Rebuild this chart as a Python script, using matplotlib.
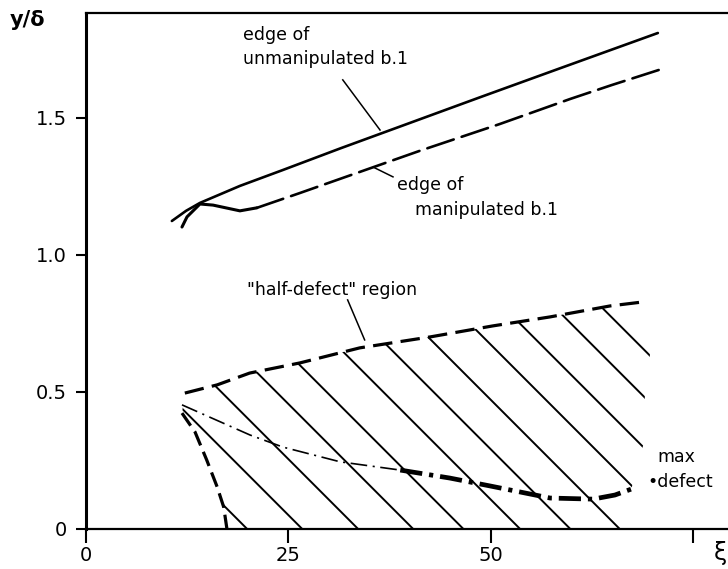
import matplotlib
matplotlib.use("Agg")
import matplotlib.pyplot as plt
from matplotlib.patches import Polygon
import numpy as np

plt.rcParams["font.family"] = ["DejaVu Sans"]
plt.rcParams["lines.scale_dashes"] = False

# Edge of the unmanipulated boundary layer (solid)
unmanip_x = [10.6, 12.35, 14.07, 19.0, 24.3, 31.4, 38.8, 48.6, 58.5, 70.6]
unmanip_y = [1.124, 1.161, 1.190, 1.252, 1.310, 1.389, 1.469, 1.575, 1.681, 1.810]

# Edge of the manipulated boundary layer (solid start, then dashed)
manip_x = [11.85, 12.47, 14.07, 15.68, 19.0, 21.1, 26.4, 33.8, 41.2, 51.1, 59.75, 64.9, 70.7]
manip_y = [1.102, 1.139, 1.186, 1.182, 1.161, 1.172, 1.226, 1.303, 1.380, 1.478, 1.569, 1.620, 1.675]
manip_solid_end = 6

# Upper limit of the "half-defect" region
half_x = [12.2, 16.2, 20.2, 26.4, 33.8, 42.5, 50.2, 57.3, 64.7, 68.6]
half_y = [0.496, 0.526, 0.569, 0.606, 0.661, 0.701, 0.741, 0.774, 0.814, 0.828]

# Lower (left) limit of the region, steep dashed curve
lower_x = [11.85, 13.46, 14.9, 16.2, 17.0, 17.4]
lower_y = [0.423, 0.354, 0.252, 0.153, 0.080, 0.0]

# Right-hand end of the hatched region
right_x = [69.9, 69.6, 69.0, 68.8, 67.5, 66.3]
right_y = [0.83, 0.624, 0.489, 0.307, 0.168, 0.0]

# Locus of maximum defect (thin then heavy dash-dot)
maxdef_x = [11.85, 20.25, 24.3, 31.4, 38.8, 44.9, 49.9, 53.6, 57.3, 62.6, 65.3, 68.0]
maxdef_y = [0.453, 0.343, 0.299, 0.245, 0.215, 0.186, 0.157, 0.135, 0.113, 0.109, 0.124, 0.153]
maxdef_split = 4

# Hatching: xi where each hatch line meets y/delta = 0, and its slope
hatch_feet = [19.9, 26.7, 33.6, 40.4, 46.6, 53.6, 59.8, 65.9, 72.7, 78.9, 85.2, 91.0]
hatch_slope = 0.0296

x_ticks = [0, 25, 50, 75]
x_tick_labels = ["0", "25", "50", ""]
y_ticks = [0, 0.5, 1.0, 1.5]
y_tick_labels = ["0", "0.5", "1.0", "1.5"]

fig = plt.figure(figsize=(7.28, 5.69), dpi=100)
ax = fig.add_axes([86 / 728, 40 / 569, 642 / 728, 516 / 569])
ax.set_xlim(0, 79.26)
ax.set_ylim(0, 1.883)

ink = "black"

# boundary-layer edges
ax.plot(unmanip_x, unmanip_y, color=ink, lw=1.9, solid_capstyle="round")
ax.plot(manip_x[:manip_solid_end], manip_y[:manip_solid_end], color=ink, lw=2.2,
        solid_capstyle="round")
ax.plot(manip_x[manip_solid_end - 1:], manip_y[manip_solid_end - 1:], color=ink, lw=1.9,
        dashes=(20, 6), dash_capstyle="round")

# half-defect region boundaries
ax.plot(half_x, half_y, color=ink, lw=2.3, dashes=(14, 6))
ax.plot(lower_x, lower_y, color=ink, lw=2.3, dashes=(11, 5))

# hatched region clipped to its outline
outline = np.column_stack([
    np.concatenate([half_x, right_x, lower_x[::-1], [half_x[0]]]),
    np.concatenate([half_y, right_y, lower_y[::-1], [half_y[0]]]),
])
clip = Polygon(outline, closed=True, facecolor="none", edgecolor="none")
ax.add_patch(clip)
span = 40.0
for foot in hatch_feet:
    ln, = ax.plot([foot - span, foot], [hatch_slope * span, 0.0], color=ink, lw=1.4)
    ln.set_clip_path(clip)

# max defect locus
ax.plot(maxdef_x[:maxdef_split + 1], maxdef_y[:maxdef_split + 1], color=ink, lw=1.2,
        dashes=(12, 4, 1.5, 4))
ax.plot(maxdef_x[maxdef_split:], maxdef_y[maxdef_split:], color=ink, lw=3.4,
        dashes=(16, 5, 3, 5))

# annotation leaders
ax.plot([31.7, 36.3], [1.639, 1.456], color=ink, lw=1.1)
ax.plot([35.5, 37.9], [1.32, 1.285], color=ink, lw=1.1)
ax.plot([32.3, 34.4], [0.836, 0.690], color=ink, lw=1.1)

fs = 12.5
ax.text(19.4, 1.785, "edge of", fontsize=fs, va="baseline")
ax.text(19.4, 1.697, "unmanipulated b.1", fontsize=fs, va="baseline")
ax.text(38.4, 1.237, "edge of", fontsize=fs, va="baseline")
ax.text(40.6, 1.146, "manipulated b.1", fontsize=fs, va="baseline")
ax.text(19.9, 0.854, "\"half-defect\" region", fontsize=fs, va="baseline")
ax.text(70.6, 0.245, "max", fontsize=fs, va="baseline")
ax.text(69.3, 0.153, "\u2022defect", fontsize=fs, va="baseline")

# axes frame
for side in ("top", "bottom"):
    ax.spines[side].set_linewidth(1.6)
ax.spines["left"].set_linewidth(2.2)
ax.spines["right"].set_visible(False)

ax.set_xticks(x_ticks)
ax.set_xticklabels(x_tick_labels)
ax.set_yticks(y_ticks)
ax.set_yticklabels(y_tick_labels)
ax.tick_params(axis="x", direction="out", length=10, width=1.5, pad=2, labelsize=14)
ax.tick_params(axis="y", direction="out", length=7, width=1.5, pad=7, labelsize=14)

fig.text(10 / 728, 1 - 26 / 569, "y/\u03b4", fontsize=15, fontweight="bold",
         va="baseline", ha="left")
fig.text(714 / 728, 1 - 560 / 569, "\u03be", fontsize=17, va="baseline", ha="left")

fig.savefig("out.png", dpi=100)
